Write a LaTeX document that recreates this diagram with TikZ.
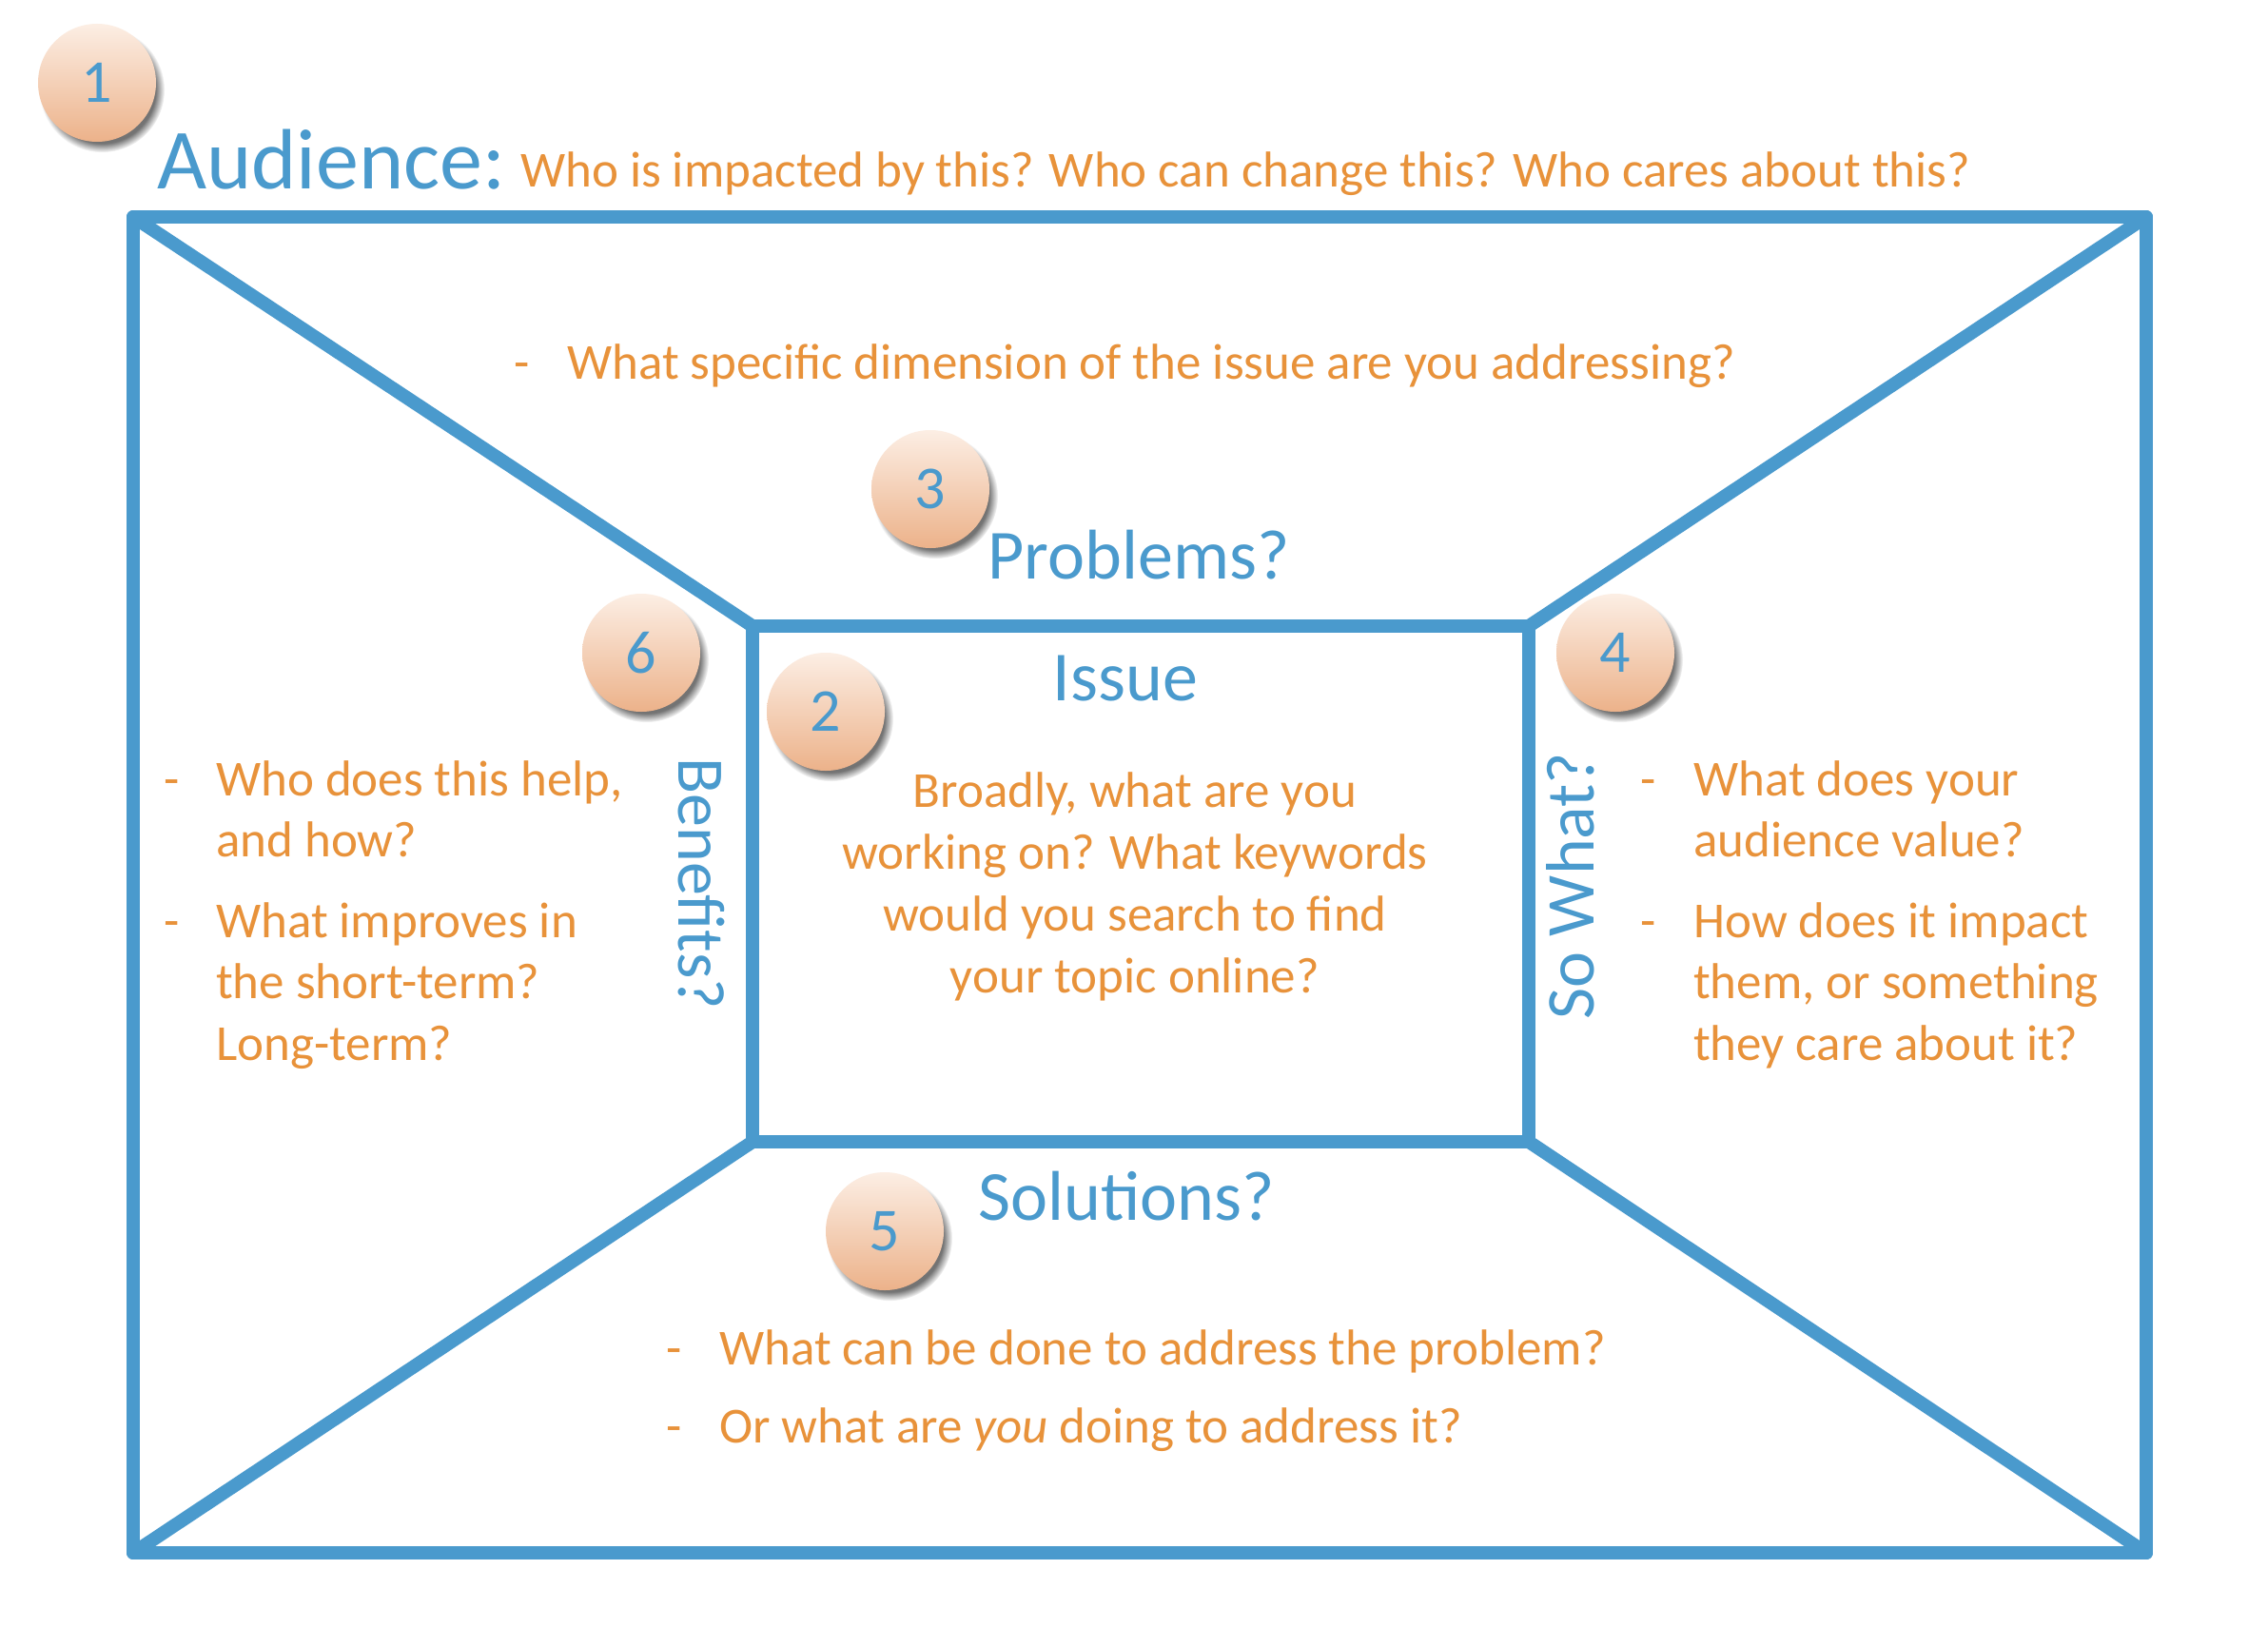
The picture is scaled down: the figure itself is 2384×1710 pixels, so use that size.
\documentclass[tikz,border=0pt]{standalone}
\usepackage{fontspec}
\setmainfont{Carlito}
\usetikzlibrary{shadows}
\definecolor{myblue}{RGB}{74,154,205}
\definecolor{myorange}{RGB}{232,146,58}
\definecolor{circtop}{RGB}{252,238,228}
\definecolor{circbot}{RGB}{236,178,138}
\newcommand{\fs}[1]{\fontsize{#1}{#1}\selectfont}
\tikzset{
  frame/.style={draw=myblue, line width=14pt, line join=round, line cap=round},
  numcircle/.style={circle, minimum size=124pt, inner sep=0pt, top color=circtop, bottom color=circbot,
    circular drop shadow={shadow xshift=5pt, shadow yshift=-7pt, shadow scale=1.06, fill=black, opacity=0.55},
    text=myblue, font=\fs{64}},
  body/.style={text=myorange, font=\fs{53}, inner sep=0pt, anchor=base west},
  bodyc/.style={text=myorange, font=\fs{53}, inner sep=0pt, anchor=base},
  title/.style={text=myblue, font=\fs{74}, inner sep=0pt, anchor=base},
}
\begin{document}
\begin{tikzpicture}[x=1pt,y=-1pt]
\useasboundingbox[fill=white] (0,0) rectangle (2384,1710);
% corners
\coordinate (o1) at (140,228);
\coordinate (o2) at (2256,228);
\coordinate (o3) at (2256,1632);
\coordinate (o4) at (140,1632);
\coordinate (i1) at (791,658);
\coordinate (i2) at (1607,658);
\coordinate (i3) at (1607,1200);
\coordinate (i4) at (791,1200);
\draw[frame] (o1) -- (o2) -- (o3) -- (o4) -- cycle;
\draw[frame] (i1) -- (i2) -- (i3) -- (i4) -- cycle;
\draw[frame] (o1) -- (i1);
\draw[frame] (o2) -- (i2);
\draw[frame] (o3) -- (i3);
\draw[frame] (o4) -- (i4);
% audience
\node[text=myblue, font=\fs{90}, inner sep=0pt, anchor=base west] (aud) at (165,198) {Audience:};
\node[body] (audq) at (547,196) {Who is impacted by this? Who can change this? Who cares about this?};
% problems
\node[body] (pd) at (540,398) {-};
\node[body] (pq) at (596,398) {What specific dimension of the issue are you addressing?};
\node[title] (prob) at (1197,608) {Problems?};
% issue
\node[title] (issue) at (1183,736) {Issue};
\node[bodyc] (is1) at (1193,848) {Broadly, what are you};
\node[bodyc] (is2) at (1193,913) {working on? What keywords};
\node[bodyc] (is3) at (1193,978) {would you search to find};
\node[bodyc] (is4) at (1193,1043) {your topic online?};
% benefits
\node[text=myblue, font=\fs{70}, inner sep=0pt, rotate=-90] (ben) at (737,929) {Benefits?};
\node[body] (bd1) at (172,836) {-};
\node[body] (b1) at (227,836) {Who does this help,};
\node[body] (b2) at (227,900) {and how?};
\node[body] (bd2) at (172,985) {-};
\node[body] (b3) at (227,985) {What improves in};
\node[body] (b4) at (227,1049) {the short-term?};
\node[body] (b5) at (227,1114) {Long-term?};
% so what
\node[text=myblue, font=\fs{72}, inner sep=0pt, rotate=90] (sow) at (1651,931) {So What?};
\node[body] (sd1) at (1724,836) {-};
\node[body] (s1) at (1780,836) {What does your};
\node[body] (s2) at (1780,900) {audience value?};
\node[body] (sd2) at (1724,985) {-};
\node[body] (s3) at (1780,985) {How does it impact};
\node[body] (s4) at (1780,1049) {them, or something};
\node[body] (s5) at (1780,1114) {they care about it?};
% solutions
\node[title] (sol) at (1184,1282) {Solutions?};
\node[body] (ld1) at (700,1434) {-};
\node[body] (l1) at (756,1434) {What can be done to address the problem?};
\node[body] (ld2) at (700,1516) {-};
\node[body] (l2) at (756,1516) {Or what are \textit{you} doing to address it?};
% numbered circles
\node[numcircle] (c1) at (102,87) {1};
\node[numcircle] (c2) at (868,748) {2};
\node[numcircle] (c3) at (978,514) {3};
\node[numcircle] (c4) at (1698,686) {4};
\node[numcircle] (c5) at (930,1294) {5};
\node[numcircle] (c6) at (674,686) {6};
\end{tikzpicture}
\end{document}
